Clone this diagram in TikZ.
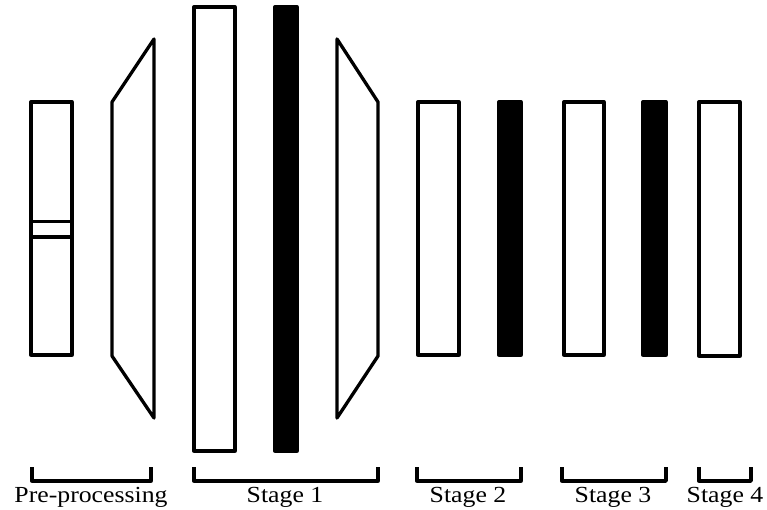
\documentclass[tikz,border=0pt]{standalone}
\usepackage{fontspec}
\setmainfont{Liberation Serif}
\begin{document}
\begin{tikzpicture}[x=1pt,y=-1pt,
  line width=3.3pt, line join=round,
  layer/.style={draw=black,fill=white},
  act/.style={draw=black,fill=black},
  brace/.style={draw=black,line width=3.3pt},
  lbl/.style={anchor=base,inner sep=0pt,font=\fontsize{23}{25}\selectfont,xscale=1.12}
]
\useasboundingbox (0,0) rectangle (767,509);

% pre-processing block with split marks
\draw[layer] (31,102) rectangle (72,355);
\draw (31,221.5) -- (72,221.5);
\draw (31,237) -- (72,237);

% expanding trapezoid
\draw[layer] (112,102) -- (154,39) -- (154,418) -- (112,356) -- cycle;

% stage 1
\draw[layer] (194,7) rectangle (235,451);
\draw[act] (275,7) rectangle (297,451);
\draw[layer] (337,39) -- (378,102) -- (378,356) -- (337,418) -- cycle;

% stage 2
\draw[layer] (418,102) rectangle (459,355);
\draw[act] (499,102) rectangle (521,355);

% stage 3
\draw[layer] (564,102) rectangle (604,355);
\draw[act] (643,102) rectangle (666,355);

% stage 4
\draw[layer] (699,102) rectangle (740,356);

% brackets
\coordinate (b0a) at (32,467);  \coordinate (b0b) at (151,467);
\coordinate (b1a) at (194,467); \coordinate (b1b) at (378,467);
\coordinate (b2a) at (417,467); \coordinate (b2b) at (521,467);
\coordinate (b3a) at (562,467); \coordinate (b3b) at (666,467);
\coordinate (b4a) at (699,467); \coordinate (b4b) at (751,467);
\foreach \b in {b0,b1,b2,b3,b4}{
  \draw[brace] (\b a) -- ++(0,14) -| (\b b);
}

% labels
\node[lbl] (l0) at (91,502) {Pre-processing};
\node[lbl] (l1) at (285,502) {Stage 1};
\node[lbl] (l2) at (468,502) {Stage 2};
\node[lbl] (l3) at (613,502) {Stage 3};
\node[lbl] (l4) at (725,502) {Stage 4};
\end{tikzpicture}
\end{document}
